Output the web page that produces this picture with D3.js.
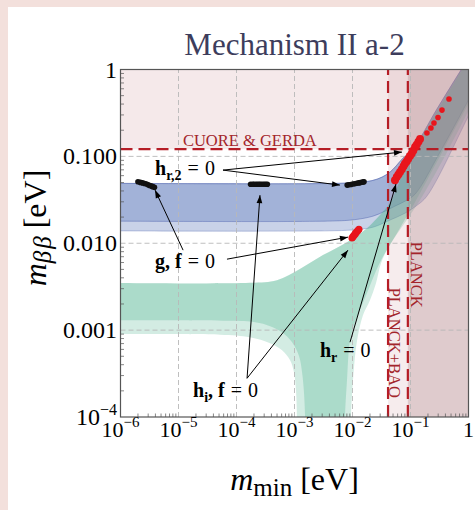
<!DOCTYPE html>
<html><head><meta charset="utf-8">
<script src="https://cdn.jsdelivr.net/npm/d3@7"></script>
<style>
html,body{margin:0;padding:0;background:#f3e0dc;overflow:hidden;}
#panel{position:absolute;left:8px;top:7px;width:467px;height:503px;background:#fff;}
svg{position:absolute;left:0;top:0;}
text{font-family:"Liberation Serif","DejaVu Serif",serif;}
</style></head><body>
<div id="panel"></div>
<svg id="chart" width="475" height="510"></svg>
<script>
// ---------- data ----------
const xTickVals = [1e-6,1e-5,1e-4,1e-3,1e-2,1e-1,1];
const xTickLabels = ["10^−6","10^−5","10^−4","10^−3","10^−2","10^−1","1"];
const yTickVals = [1e-4,1e-3,1e-2,1e-1,1];
const yTickLabels = ["10^−4","0.001","0.010","0.100","1"];

const cuoreLimit = 0.121, baoLimit = 0.041, planckLimit = 0.09;

// band boundaries [m_min, m_bb]
const blueUpper = [[5e-7,0.049],[0.006,0.049],[0.0135,0.0506],[0.0217,0.0526],[0.0323,0.0577],[0.0444,0.066],[0.0562,0.0773],[0.0743,0.0956],[0.110,0.121],[0.286,0.351],[0.743,0.987],[1.29,1.77]];
const blueDarkLower = [[5e-7,0.018],[0.0041,0.018],[0.011,0.0187],[0.0225,0.0205],[0.0363,0.0234],[0.0541,0.0268],[0.0804,0.0305],[0.120,0.0368],[0.323,0.112],[1,0.445],[1.58,0.757]];
const blueLightLower = [[5e-7,0.0139],[0.0041,0.0139],[0.011,0.0143],[0.0225,0.0153],[0.0444,0.0185],[0.0804,0.0222],[0.1245,0.0268],[0.192,0.0349],[1.06,0.315],[1.92,0.663]];
const greenUpper = [[5e-7,0.0035],[1.71e-4,0.0035],[4.99e-4,0.00376],[1.24e-3,0.00505],[3.10e-3,0.0073],[8.04e-3,0.0103],[0.0178,0.0149],[0.0298,0.0211],[0.0444,0.029],[0.0562,0.0409],[0.0685,0.0562],[0.0835,0.0773],[0.110,0.112],[0.286,0.333],[0.743,0.961],[1.29,1.77]];
const greenDarkLeft = [[5e-7,0.0013],[7.7e-5,0.00128],[2.1e-4,0.00123],[3.8e-4,0.00111],[6.1e-4,0.000946],[9.1e-4,0.000726],[1.2e-3,0.0005],[1.35e-3,0.000327],[1.46e-3,0.000188],[1.52e-3,0.0001],[1.52e-3,6e-5]];
const greenLightLeft = [[5e-7,0.000897],[5.2e-5,0.000885],[1.7e-4,0.000828],[3.8e-4,0.000706],[6.1e-4,0.000587],[8.4e-4,0.00045],[9.8e-4,0.000327],[1.06e-3,0.000203],[1.1e-3,0.0001],[1.1e-3,6e-5]];
const greenDarkRight = [[0.00743,6e-5],[0.00743,1e-4],[0.00804,0.000265],[0.00906,0.000765],[0.0110,0.00123],[0.0146,0.00194],[0.0192,0.00304],[0.0244,0.00453],[0.0323,0.00674],[0.0461,0.01003],[0.0685,0.01574],[0.110,0.0268],[0.323,0.1008],[1,0.4004],[1.58,0.681]];
const greenLightRight = [[0.00942,6e-5],[0.00942,1e-4],[0.0102,0.000265],[0.0120,0.000765],[0.0152,0.00149],[0.0200,0.00221],[0.0254,0.00347],[0.031,0.0059],[0.0409,0.00878],[0.0585,0.01274],[0.0906,0.01946],[0.146,0.0314],[0.323,0.0794],[1.06,0.360],[1.92,0.757]];

// scatter points
const blackPts = [[2.0e-6,0.051],[2.2e-6,0.0502],[2.4e-6,0.0495],[2.6e-6,0.0488],[2.8e-6,0.048],[3.0e-6,0.047],[3.2e-6,0.0462],[3.4e-6,0.0455],[3.6e-6,0.0448],[3.85e-6,0.0442],
  [1.75e-4,0.0478],[1.9e-4,0.0478],[2.0e-4,0.0478],[2.15e-4,0.0478],[2.3e-4,0.0478],[2.45e-4,0.0478],[2.6e-4,0.0478],[2.8e-4,0.0478],[3.0e-4,0.0478],[3.2e-4,0.0478],[3.4e-4,0.0478],
  [0.0081,0.0467],[0.0087,0.0471],[0.0094,0.0475],[0.0102,0.048],[0.011,0.0485],[0.0119,0.049],[0.0128,0.0495],[0.0136,0.0499],[0.0145,0.0503],[0.0152,0.0507],[0.0158,0.051]];
const redPtsLow = [[0.0098,0.0115],[0.0102,0.0119],[0.0107,0.0124],[0.0112,0.0129],[0.0117,0.0134],[0.0123,0.0139],[0.0129,0.0145]];
const redPtsHigh = [[0.054,0.053],[0.058,0.058],[0.062,0.062],[0.066,0.066],[0.071,0.071],[0.076,0.077],[0.080,0.082],[0.085,0.087],[0.091,0.093],[0.098,0.101],[0.105,0.108],[0.112,0.117],[0.120,0.128],[0.128,0.136],[0.137,0.147],[0.146,0.158]];
const redPtsSparse = [[0.192,0.1855],[0.225,0.212],[0.254,0.242],[0.298,0.28],[0.349,0.341],[0.461,0.457]];

// annotations
const labelParts = [
  [["h","b"],["r,2","bs"],["=","",6],["0","",6]],
  [["g, f","b"],["=","",6],["0","",6]],
  [["h","b"],["i","bs"],[", f","b"],["=","",6],["0","",6]],
  [["h","b"],["r","bs"],["=","",6],["0","",6]]
];
const labelAt = [[3.94e-6,0.0609],[3.94e-6,0.00516],[1.78e-5,1.69e-4],[2.75e-3,4.87e-4]];
const arrowFrom = [[5.85e-5,0.0695],[5.85e-5,0.0695],[1.2e-5,0.00833],[6.85e-5,0.00656],[1.52e-4,2.79e-4],[1.52e-4,2.79e-4],[0.00906,7.26e-4]];
const arrowTo = [[0.0713,0.112],[0.00608,0.0467],[3.94e-6,0.0409],[0.00835,0.01176],[2.54e-4,0.0358],[0.00835,0.00833],[0.0562,0.048]];

// ---------- chart ----------
const svg = d3.select("#chart");
const x = d3.scaleLog().domain([1e-6,1]).range([120.5,468.5]);
const y = d3.scaleLog().domain([1e-4,1]).range([417,69.5]);
const [x0,x1] = x.range(), [y0,y1] = y.range();

const defs = svg.append("defs");
defs.append("clipPath").attr("id","clip")
  .append("rect").attr("x",x0).attr("y",y1).attr("width",x1-x0).attr("height",y0-y1);
defs.append("marker").attr("id","arr").attr("markerUnits","userSpaceOnUse")
  .attr("viewBox","0 -5 10 10").attr("refX",10).attr("refY",0)
  .attr("markerWidth",11).attr("markerHeight",8).attr("orient","auto")
  .append("path").attr("d","M0,-3.6L10,0L0,3.6Z").attr("fill","#000");

const plot = svg.append("g").attr("clip-path","url(#clip)");
const line = d3.line().x(d=>x(d[0])).y(d=>y(d[1])).curve(d3.curveCatmullRom.alpha(0.5));
const poly = pts => line(pts) + "Z";

// bands
plot.append("path").attr("d",poly(blueUpper.concat(blueLightLower.slice().reverse())))
  .attr("fill","rgb(100,125,190)").attr("fill-opacity",0.35)
  .attr("stroke","rgb(90,110,180)").attr("stroke-opacity",0.35).attr("stroke-width",1);
plot.append("path").attr("d",poly(blueUpper.concat(blueDarkLower.slice().reverse())))
  .attr("fill","rgb(100,125,190)").attr("fill-opacity",0.38)
  .attr("stroke","rgb(80,100,175)").attr("stroke-opacity",0.45).attr("stroke-width",1);
plot.append("path").attr("d",poly(greenUpper.concat(greenLightRight.slice().reverse(), greenLightLeft.slice().reverse())))
  .attr("fill","rgb(80,180,145)").attr("fill-opacity",0.25);
plot.append("path").attr("d",poly(greenUpper.concat(greenDarkRight.slice().reverse(), greenDarkLeft.slice().reverse())))
  .attr("fill","rgb(80,180,145)").attr("fill-opacity",0.3);

// excluded regions
plot.append("rect").attr("x",x0).attr("y",y1).attr("width",x1-x0).attr("height",y(cuoreLimit)-y1)
  .attr("fill","rgb(190,120,125)").attr("fill-opacity",0.16);
plot.append("rect").attr("x",x(baoLimit)).attr("y",y1).attr("width",x1-x(baoLimit)).attr("height",y0-y1)
  .attr("fill","rgb(190,120,125)").attr("fill-opacity",0.14);
plot.append("rect").attr("x",x(planckLimit)).attr("y",y1).attr("width",x1-x(planckLimit)).attr("height",y0-y1)
  .attr("fill","rgb(170,130,135)").attr("fill-opacity",0.31);

// grid
const grid = svg.append("g").attr("stroke","#b8b8b8").attr("stroke-width",0.9).attr("stroke-dasharray","5,3");
xTickVals.slice(1,-1).forEach(v=>grid.append("line").attr("x1",x(v)).attr("x2",x(v)).attr("y1",y0).attr("y2",y1));
yTickVals.slice(1,-1).forEach(v=>grid.append("line").attr("y1",y(v)).attr("y2",y(v)).attr("x1",x0).attr("x2",x1));

// limit lines
const lim = svg.append("g").attr("stroke","#b51d26").attr("stroke-width",2.2).attr("stroke-dasharray","12,6");
lim.append("line").attr("x1",x0).attr("x2",x1).attr("y1",y(cuoreLimit)).attr("y2",y(cuoreLimit));
lim.append("line").attr("x1",x(baoLimit)).attr("x2",x(baoLimit)).attr("y1",y0).attr("y2",y1);
lim.append("line").attr("x1",x(planckLimit)).attr("x2",x(planckLimit)).attr("y1",y0).attr("y2",y1);

const red = "#a3252b";
svg.append("text").attr("x",x(1.7e-4)).attr("y",y(cuoreLimit)-3).attr("text-anchor","middle")
  .attr("font-size",16.5).attr("fill",red).text("CUORE & GERDA");
svg.append("text").attr("transform",`translate(${x(planckLimit)+3},${y(0.00435)}) rotate(90)`)
  .attr("text-anchor","middle").attr("font-size",16.5).attr("fill",red).text("PLANCK");
svg.append("text").attr("transform",`translate(${x(baoLimit)+1},${y(0.000716)}) rotate(90)`)
  .attr("text-anchor","middle").attr("font-size",16.5).attr("fill",red).text("PLANCK+BAO");

// points
const pts = svg.append("g").attr("clip-path","url(#clip)");
pts.selectAll(".bk").data(blackPts).join("circle").attr("cx",d=>x(d[0])).attr("cy",d=>y(d[1])).attr("r",2.8).attr("fill","#111");
pts.selectAll(".rl").data(redPtsLow).join("circle").attr("cx",d=>x(d[0])).attr("cy",d=>y(d[1])).attr("r",3.6).attr("fill","#e8151c");
pts.selectAll(".rh").data(redPtsHigh).join("circle").attr("cx",d=>x(d[0])).attr("cy",d=>y(d[1])).attr("r",4).attr("fill","#e8151c");
pts.selectAll(".rs").data(redPtsSparse).join("circle").attr("cx",d=>x(d[0])).attr("cy",d=>y(d[1])).attr("r",2.8).attr("fill","#e8151c");

// annotations
const ann = svg.append("g");
arrowFrom.forEach((f,i)=>{
  ann.append("line").attr("x1",x(f[0])).attr("y1",y(f[1])).attr("x2",x(arrowTo[i][0])).attr("y2",y(arrowTo[i][1]))
    .attr("stroke","#000").attr("stroke-width",1).attr("marker-end","url(#arr)");
});
labelParts.forEach((parts,i)=>{
  const t = ann.append("text").attr("x",x(labelAt[i][0])).attr("y",y(labelAt[i][1])).attr("font-size",20).attr("fill","#000");
  let sub=false;
  parts.forEach(p=>{
    const ts = t.append("tspan").text(p[0]);
    const isSub = p[1].includes("s");
    if (p[1].includes("b")) ts.attr("font-weight","bold");
    if (isSub) ts.attr("font-size",14);
    let dy = 0;
    if (isSub && !sub) dy = 5; else if (!isSub && sub) dy = -5;
    if (dy) ts.attr("dy",dy);
    if (p[2]) ts.attr("dx",p[2]);
    sub = isSub;
  });
});

// frame & ticks
const ax = svg.append("g").attr("stroke","#555").attr("fill","none");
ax.append("rect").attr("x",x0).attr("y",y1).attr("width",x1-x0).attr("height",y0-y1).attr("stroke-width",1.2);
for (let e=-4;e<0;e++) for (let k=2;k<10;k++){
  const v=k*Math.pow(10,e);
  ax.append("line").attr("x1",x0).attr("x2",x0+3.5).attr("y1",y(v)).attr("y2",y(v)).attr("stroke-width",0.7);
}
for (let e=-6;e<0;e++) for (let k=2;k<10;k++){
  const v=k*Math.pow(10,e);
  ax.append("line").attr("y1",y0).attr("y2",y0-3.5).attr("x1",x(v)).attr("x2",x(v)).attr("stroke-width",0.7);
}

function powLabel(sel, lab, supSize, supDy){
  const parts = lab.split("^");
  sel.append("tspan").text(parts[0]);
  if (parts[1]) sel.append("tspan").attr("font-size",supSize).attr("dy",supDy).text(parts[1]);
}
xTickVals.forEach((v,i)=>{
  const t = svg.append("text").attr("x",x(v)).attr("y",437).attr("text-anchor","middle").attr("font-size",22).attr("fill","#000");
  powLabel(t, xTickLabels[i], 15, -10);
});
yTickVals.forEach((v,i)=>{
  const t = svg.append("text").attr("x",117).attr("y",y(v)+8).attr("text-anchor","end").attr("font-size",24).attr("fill","#000");
  powLabel(t, yTickLabels[i], 16, -10);
});

// title & axis titles
svg.append("text").attr("x",(x0+x1)/2).attr("y",55).attr("text-anchor","middle").attr("font-size",31).attr("fill","#3d3d5c").text("Mechanism II a-2");
const xt = svg.append("text").attr("x",(x0+x1)/2).attr("y",490).attr("text-anchor","middle").attr("font-size",32).attr("fill","#000");
xt.append("tspan").attr("font-style","italic").text("m");
xt.append("tspan").attr("font-size",25).attr("dy",6).text("min");
xt.append("tspan").attr("dy",-6).attr("dx",8).text("[eV]");
const yt = svg.append("text").attr("transform","translate(46,228) rotate(-90)").attr("text-anchor","middle").attr("font-size",32).attr("fill","#000");
yt.append("tspan").attr("font-style","italic").text("m");
yt.append("tspan").attr("font-size",25).attr("font-style","italic").attr("dy",5).attr("letter-spacing",2).text("ββ");
yt.append("tspan").attr("dy",-5).attr("dx",6).text("[eV]");
</script></body></html>
